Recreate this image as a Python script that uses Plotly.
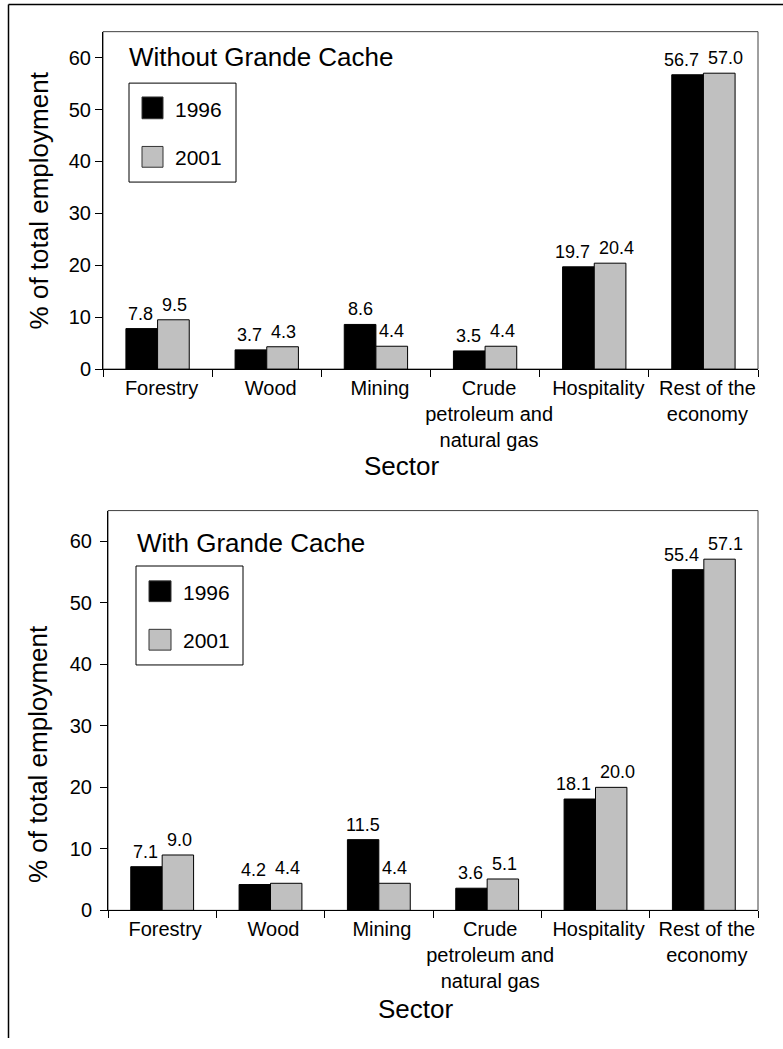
import plotly.graph_objects as go

W, H = 783, 1049

categories = ["Forestry", "Wood", "Mining", "Crude<br>petroleum and<br>natural gas",
              "Hospitality", "Rest of the<br>economy"]
series_names = ["1996", "2001"]
series_colors = ["#000000", "#c0c0c0"]

without_1996 = [7.8, 3.7, 8.6, 3.5, 19.7, 56.7]
without_2001 = [9.5, 4.3, 4.4, 4.4, 20.4, 57.0]
with_1996 = [7.1, 4.2, 11.5, 3.6, 18.1, 55.4]
with_2001 = [9.0, 4.4, 4.4, 5.1, 20.0, 57.1]

panel_titles = ["Without Grande Cache", "With Grande Cache"]
y_title = "% of total employment"
x_title = "Sector"
y_ticks = [0, 10, 20, 30, 40, 50, 60]

FONT = "Liberation Sans, Arial, sans-serif"
BARGAP = 0.42
Y_MAX = 65
LABEL_FS = 18


def px(x):
    return x / W


def py(y):
    return 1 - y / H


fig = go.Figure()

panels = [
    dict(data=[without_1996, without_2001], xa="x", ya="y",
         px_x=(103, 758), px_y=(32, 373), lshift=4),
    dict(data=[with_1996, with_2001], xa="x2", ya="y2",
         px_x=(108, 758), px_y=(516, 920), lshift=3),
]

for p in panels:
    p["dom_x"] = [px(p["px_x"][0]), px(p["px_x"][1])]
    p["dom_y"] = [py(p["px_y"][1]), py(p["px_y"][0])]
    for name, color, vals in zip(series_names, series_colors, p["data"]):
        fig.add_trace(go.Bar(
            x=categories, y=vals, name=name,
            marker=dict(color=color, line=dict(color="#000000", width=1)),
            xaxis=p["xa"], yaxis=p["ya"], showlegend=False,
            hovertemplate="%{y:.1f}<extra>" + name + "</extra>",
        ))


def x_axis(p):
    return dict(domain=p["dom_x"], type="category", range=[-0.5, len(categories) - 0.5],
                tickson="boundaries", ticks="outside",
                ticklen=7, tickcolor="#000000", showline=True, linecolor="#000000",
                linewidth=1, showgrid=False, tickangle=0, ticklabelshift=p["lshift"],
                ticklabelstandoff=1,
                tickfont=dict(size=20, color="#000000", family=FONT), fixedrange=True)


def y_axis(p, standoff):
    return dict(domain=p["dom_y"], range=[0, Y_MAX], tickvals=y_ticks, ticks="outside",
                ticklen=7, tickcolor="#000000", showline=True, linecolor="#000000",
                linewidth=1, showgrid=False, zeroline=False, ticklabelstandoff=standoff,
                tickfont=dict(size=20, color="#000000", family=FONT), fixedrange=True)


fig.update_layout(
    width=W, height=H, autosize=False,
    margin=dict(l=0, r=0, t=0, b=0, pad=0),
    paper_bgcolor="white", plot_bgcolor="white",
    font=dict(family=FONT, color="#000000"),
    barmode="group", bargap=BARGAP, bargroupgap=0,
    showlegend=False,
    xaxis=dict(anchor="y", **x_axis(panels[0])),
    yaxis=dict(anchor="x", **y_axis(panels[0], 0)),
    xaxis2=dict(anchor="y2", **x_axis(panels[1])),
    yaxis2=dict(anchor="x2", **y_axis(panels[1], 4)),
)

shapes = []
annotations = []

# value labels above bars, spread apart when neighbouring labels would collide
bar_w = (1 - BARGAP) / 2
for p in panels:
    cat_px = (p["px_x"][1] - p["px_x"][0]) / len(categories)
    unit_px = (p["px_y"][1] - p["px_y"][0]) / Y_MAX
    a, b = p["data"]
    for i in range(len(categories)):
        ta, tb = f"{a[i]:.1f}", f"{b[i]:.1f}"
        wa = (0.556 * (len(ta) - 1) + 0.278) * LABEL_FS
        wb = (0.556 * (len(tb) - 1) + 0.278) * LABEL_FS
        sep = bar_w * cat_px
        need = (wa + wb) / 2 + 9
        shift = 0.0
        if abs(a[i] - b[i]) * unit_px < LABEL_FS and sep < need:
            shift = (need - sep) / 2
        for val, txt, off, sh in [(a[i], ta, -bar_w / 2, -shift), (b[i], tb, bar_w / 2, shift)]:
            annotations.append(dict(xref=p["xa"], yref=p["ya"], x=i + off, y=val,
                                    xanchor="center", yanchor="bottom", xshift=sh, yshift=3,
                                    text=txt, showarrow=False,
                                    font=dict(size=LABEL_FS, color="#000000", family=FONT)))

# plot frames
for xa, ya in [("x", "y"), ("x2", "y2")]:
    shapes.append(dict(type="rect", xref=f"{xa} domain", yref=f"{ya} domain",
                       x0=0, x1=1, y0=0, y1=1, line=dict(color="#404040", width=1),
                       layer="below"))

# outer frame (top and left edges)
shapes.append(dict(type="line", xref="paper", yref="paper", x0=px(8.5), x1=1,
                   y0=py(4.5), y1=py(4.5), line=dict(color="#000000", width=1.5)))
shapes.append(dict(type="line", xref="paper", yref="paper", x0=px(8.5), x1=px(8.5),
                   y0=py(4.5), y1=0, line=dict(color="#000000", width=1.5)))

# legends
legend_specs = [
    dict(box=(129, 84, 236, 184), sq_x=(142, 163), sq_y=[(98, 120), (148, 169)],
         text_x=173, text_y=[111, 159.5]),
    dict(box=(136, 572, 243, 672), sq_x=(149, 171), sq_y=[(587, 608), (636, 657)],
         text_x=181, text_y=[599, 647]),
]
for spec in legend_specs:
    bx0, by0, bx1, by1 = spec["box"]
    shapes.append(dict(type="rect", xref="paper", yref="paper",
                       x0=px(bx0), x1=px(bx1), y0=py(by1), y1=py(by0),
                       line=dict(color="#000000", width=1), fillcolor="white"))
    for i, (name, color) in enumerate(zip(series_names, series_colors)):
        y0, y1 = spec["sq_y"][i]
        shapes.append(dict(type="rect", xref="paper", yref="paper",
                           x0=px(spec["sq_x"][0]), x1=px(spec["sq_x"][1]),
                           y0=py(y1), y1=py(y0),
                           line=dict(color="#333333", width=1), fillcolor=color))
        annotations.append(dict(xref="paper", yref="paper", x=px(spec["text_x"]),
                                y=py(spec["text_y"][i]), xanchor="left", yanchor="middle",
                                text=name, showarrow=False,
                                font=dict(size=21, color="#000000", family=FONT)))

# panel titles
for title, (tx, ty) in zip(panel_titles, [(127, 58), (135, 549)]):
    annotations.append(dict(xref="paper", yref="paper", x=px(tx), y=py(ty),
                            xanchor="left", yanchor="middle", text=title, showarrow=False,
                            font=dict(size=26, color="#000000", family=FONT)))

# y axis titles
for (tx, ty) in [(39, 202.5), (38, 762)]:
    annotations.append(dict(xref="paper", yref="paper", x=px(tx), y=py(ty),
                            xanchor="center", yanchor="middle", text=y_title,
                            textangle=-90, showarrow=False,
                            font=dict(size=26, color="#000000", family=FONT)))

# x axis titles
for (tx, ty) in [(401.5, 470.5), (415.5, 1020)]:
    annotations.append(dict(xref="paper", yref="paper", x=px(tx), y=py(ty),
                            xanchor="center", yanchor="middle", text=x_title,
                            showarrow=False,
                            font=dict(size=26, color="#000000", family=FONT)))

fig.update_layout(shapes=shapes, annotations=annotations)

fig.write_html("out.html", config=dict(responsive=False, displayModeBar=False),
               post_script="document.body.style.margin='0';document.body.style.overflow='hidden';")
